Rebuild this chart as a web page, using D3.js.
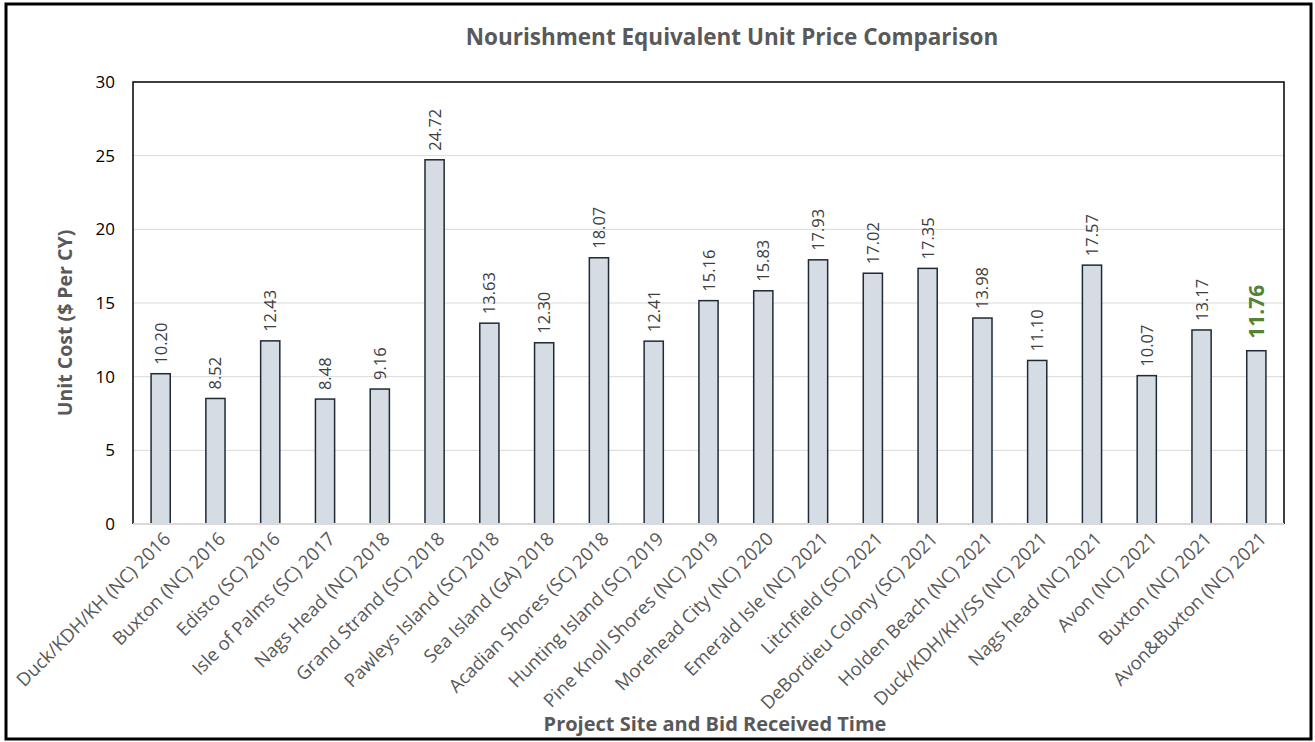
<!DOCTYPE html>
<html>
<head>
<meta charset="utf-8">
<script src="https://cdn.jsdelivr.net/npm/d3@7"></script>
<style>
  body { margin: 0; background: #fff; }
  svg { display: block; font-family: "Open Sans", "Noto Sans", sans-serif; }
</style>
</head>
<body>
<script>
var width = 1315,
    height = 742;

var sites = ["Duck/KDH/KH (NC) 2016", "Buxton (NC) 2016", "Edisto (SC) 2016", "Isle of Palms (SC) 2017",
    "Nags Head (NC) 2018", "Grand Strand (SC) 2018", "Pawleys Island (SC) 2018", "Sea Island (GA) 2018",
    "Acadian Shores (SC) 2018", "Hunting Island (SC) 2019", "Pine Knoll Shores (NC) 2019", "Morehead City (NC) 2020",
    "Emerald Isle (NC) 2021", "Litchfield (SC) 2021", "DeBordieu Colony (SC) 2021", "Holden Beach (NC) 2021",
    "Duck/KDH/KH/SS (NC) 2021", "Nags head (NC) 2021", "Avon (NC) 2021", "Buxton (NC) 2021", "Avon&Buxton (NC) 2021"];
var unitCost = [10.20, 8.52, 12.43, 8.48, 9.16, 24.72, 13.63, 12.30, 18.07, 12.41, 15.16, 15.83,
    17.93, 17.02, 17.35, 13.98, 11.10, 17.57, 10.07, 13.17, 11.76];
var yTicks = [0, 5, 10, 15, 20, 25, 30];

var margin = {top: 82, right: 31, bottom: 218, left: 133};
var plotW = width - margin.left - margin.right,
    plotH = height - margin.top - margin.bottom;

var svg = d3.select("body").append("svg")
    .attr("width", width)
    .attr("height", height);

// outer frame
svg.append("rect")
    .attr("x", 6).attr("y", 4)
    .attr("width", width - 10).attr("height", height - 7)
    .attr("fill", "#fff")
    .attr("stroke", "#000")
    .attr("stroke-width", 3);

var x = d3.scaleBand()
    .domain(sites)
    .range([0, plotW])
    .paddingInner(0.65)
    .paddingOuter(0.33);

var y = d3.scaleLinear()
    .domain([0, 30])
    .range([plotH, 0]);

var g = svg.append("g")
    .attr("transform", "translate(" + margin.left + "," + margin.top + ")");

// gridlines
g.append("g")
    .selectAll("line")
    .data(yTicks.filter(function (d) { return d > 0 && d < 30; }))
    .enter().append("line")
    .attr("x1", 0).attr("x2", plotW)
    .attr("y1", function (d) { return y(d); })
    .attr("y2", function (d) { return y(d); })
    .attr("stroke", "#d9d9d9")
    .attr("stroke-width", 1);

// plot frame (top, left, right)
g.append("path")
    .attr("d", "M0," + plotH + "V0H" + plotW + "V" + plotH)
    .attr("fill", "none")
    .attr("stroke", "#000")
    .attr("stroke-width", 1.5);

// bars
g.append("g")
    .selectAll("rect")
    .data(unitCost)
    .enter().append("rect")
    .attr("x", function (d, i) { return x(sites[i]); })
    .attr("y", function (d) { return y(d); })
    .attr("width", x.bandwidth())
    .attr("height", function (d) { return plotH - y(d); })
    .attr("fill", "#d6dce4")
    .attr("stroke", "#1f2a36")
    .attr("stroke-width", 1.5);

// bottom axis line
g.append("line")
    .attr("x1", 0).attr("x2", plotW)
    .attr("y1", plotH).attr("y2", plotH)
    .attr("stroke", "#d9d9d9")
    .attr("stroke-width", 2);

// value labels
var last = unitCost.length - 1;
g.append("g")
    .selectAll("text")
    .data(unitCost)
    .enter().append("text")
    .attr("transform", function (d, i) {
        return "translate(" + (x(sites[i]) + x.bandwidth() / 2 + (i === last ? 8 : 6)) + "," + (y(d) - (i === last ? 12 : 9)) + ") rotate(-90)";
    })
    .attr("text-anchor", "start")
    .style("font-size", function (d, i) { return i === last ? "21px" : "16.5px"; })
    .style("font-weight", function (d, i) { return i === last ? "bold" : "normal"; })
    .attr("fill", function (d, i) { return i === last ? "#538135" : "#404040"; })
    .text(function (d) { return d.toFixed(2); });

// y axis
var yAxis = g.append("g")
    .call(d3.axisLeft(y).tickValues(yTicks).tickSize(0).tickPadding(18));
yAxis.select(".domain").remove();
yAxis.selectAll("text")
    .style("font-size", "17px")
    .style("font-family", "'Open Sans', sans-serif")
    .attr("fill", "#000");

// x axis
var xAxis = g.append("g")
    .attr("transform", "translate(0," + plotH + ")")
    .call(d3.axisBottom(x).tickSize(0));
xAxis.select(".domain").remove();
xAxis.selectAll("text")
    .style("font-size", "18.5px")
    .style("font-family", "'Open Sans', sans-serif")
    .attr("fill", "#595959")
    .attr("text-anchor", "end")
    .attr("dy", 0)
    .attr("transform", "translate(9,14) rotate(-45)");

// titles
svg.append("text")
    .attr("x", 732).attr("y", 45)
    .attr("text-anchor", "middle")
    .style("font-size", "22.5px")
    .style("font-weight", "bold")
    .attr("fill", "#595959")
    .text("Nourishment Equivalent Unit Price Comparison");

svg.append("text")
    .attr("transform", "translate(72,323) rotate(-90)")
    .attr("text-anchor", "middle")
    .style("font-size", "19.5px")
    .style("font-weight", "bold")
    .attr("fill", "#595959")
    .text("Unit Cost ($ Per CY)");

svg.append("text")
    .attr("x", 715).attr("y", 731)
    .attr("text-anchor", "middle")
    .style("font-size", "20px")
    .style("font-weight", "bold")
    .attr("fill", "#595959")
    .text("Project Site and Bid Received Time");
</script>
</body>
</html>
